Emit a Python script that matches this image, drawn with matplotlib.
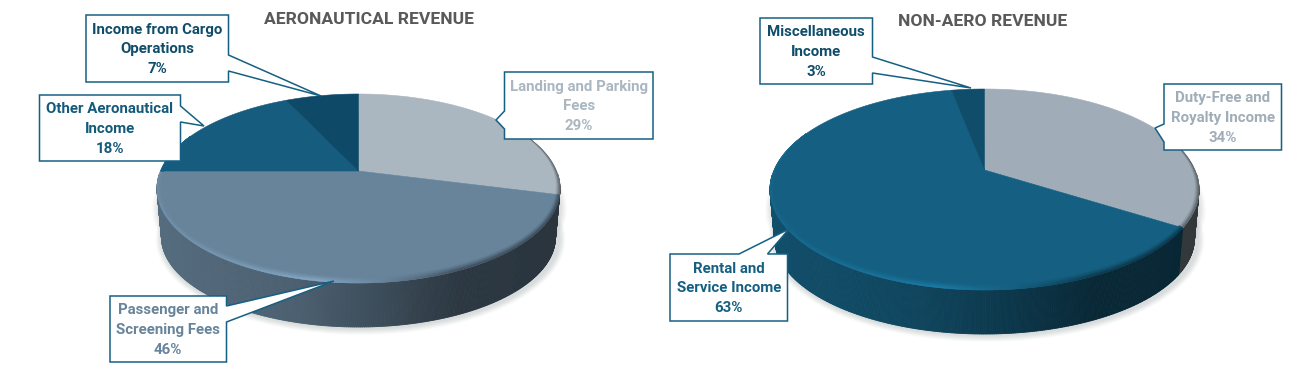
import numpy as np
import matplotlib
matplotlib.use("Agg")
import matplotlib.pyplot as plt
from matplotlib.collections import PolyCollection
from matplotlib.colors import to_rgb
from matplotlib.patches import Polygon, Ellipse

# ---- data ----
aero_title = "AERONAUTICAL REVENUE"
aero_categories = ["Landing and Parking\nFees", "Passenger and\nScreening Fees",
                   "Other Aeronautical\nIncome", "Income from Cargo\nOperations"]
aero_values = [29, 46, 18, 7]
aero_colors = ["#aab6c0", "#68849b", "#155c7e", "#0e4a68"]
aero_text = ["#aab6c0", "#68849b", "#145a7a", "#0f4d6b"]

nonaero_title = "NON-AERO REVENUE"
nonaero_categories = ["Duty-Free and\nRoyalty Income", "Rental and\nService Income",
                      "Miscellaneous\nIncome"]
nonaero_values = [34, 63, 3]
nonaero_colors = ["#a0adb8", "#156082", "#0f4d6b"]
nonaero_text = ["#a0adb8", "#156082", "#0f4d6b"]

# ---- layout (pixels) ----
aero_geom = dict(cx=358.5, cy=188.5, rx=201.5, ry=94.5, d=0.185, rxb=197, cyb=237, ryb=90)
nonaero_geom = dict(cx=984.5, cy=189.5, rx=214.5, ry=100.5, d=0.194, rxb=210, cyb=238, ryb=96)

aero_boxes = [
    dict(box=(504.5, 72, 653, 139), tip=(496, 120), base=((504.5, 129), (504.5, 111))),
    dict(box=(110, 296, 226.5, 362), tip=(334, 281), base=((226.5, 306), (226.5, 322))),
    dict(box=(39.5, 95, 180.5, 161), tip=(204, 126), base=((180.5, 106), (180.5, 122))),
    dict(box=(86, 15, 228.5, 82), tip=(321, 96), base=((228.5, 55), (228.5, 71))),
]
nonaero_boxes = [
    dict(box=(1164, 84, 1281.5, 150), tip=(1155, 128), base=((1164, 142), (1164, 124))),
    dict(box=(670, 254, 787.5, 321), tip=(789, 229), base=((739, 254), (767.5, 254))),
    dict(box=(760, 18, 872.5, 84), tip=(971, 88), base=((872.5, 57), (872.5, 73))),
]

EDGE = "#156082"
plt.rcParams["font.family"] = ["Roboto", "DejaVu Sans"]

fig = plt.figure(figsize=(12.9, 3.7), dpi=100, facecolor="white")
ax = fig.add_axes([0, 0, 1, 1])
ax.set_xlim(0, 1290)
ax.set_ylim(370, 0)
ax.axis("off")


def rim(theta, d):
    """Perspective map of the unit circle: theta runs clockwise from the top."""
    u, v = np.sin(theta), np.cos(theta)
    den = 1 + d * v
    return u * np.sqrt(1 - d * d) / den, (v + d) / den


def side_factor(x):
    return np.interp(x, [-1, -0.3, 0.1, 0.5, 1], [0.82, 0.72, 0.58, 0.42, 0.40])


def bevel_factor(x):
    return np.interp(x, [-1, -0.55, -0.2, 0.1, 0.5, 1], [1.08, 1.18, 1.28, 1.02, 0.62, 0.6])


def draw_pie(values, colors, g):
    cx, cy, rx, ry, d = g["cx"], g["cy"], g["rx"], g["ry"], g["d"]
    rxb, cyb, ryb = g["rxb"], g["cyb"], g["ryb"]

    # soft shadow
    for k, a in zip(range(7, 0, -1), [0.08, 0.10, 0.12, 0.14, 0.16, 0.18, 0.20]):
        ax.add_patch(Ellipse((cx + 2, cyb + 2), 2 * (rxb + k + 1), 2 * (ryb + k - 1),
                             fc="#c8cccc", ec="none", alpha=a, zorder=1))
        ax.add_patch(Ellipse((cx + 1, cy + 20), 2 * (rx + k - 1), 2 * (ry + k - 4),
                             fc="#c8cccc", ec="none", alpha=a * 0.8, zorder=1))

    edges = np.cumsum([0] + list(values)) / sum(values) * 2 * np.pi
    apex = (cx, cy - ry * d)

    # side wall
    quads, cols = [], []
    for i, c in enumerate(colors):
        base = np.array(to_rgb(c))
        n = max(int((edges[i + 1] - edges[i]) * 120), 3)
        th = np.linspace(edges[i], edges[i + 1], n + 1)
        X, Y = rim(th, d)
        for j in range(n):
            if Y[j] > 0.15 and Y[j + 1] > 0.15:
                continue
            quads.append([(cx + rx * X[j], cy - ry * Y[j]),
                          (cx + rx * X[j + 1], cy - ry * Y[j + 1]),
                          (cx + rxb * X[j + 1], cyb - ryb * Y[j + 1]),
                          (cx + rxb * X[j], cyb - ryb * Y[j])])
            f = side_factor((X[j] + X[j + 1]) / 2)
            # pale slices get a stronger darkening on their wall
            if base.mean() > 0.55:
                f *= 0.8
            cols.append(tuple(base * f))
    ax.add_collection(PolyCollection(quads, facecolors=cols, edgecolors=cols,
                                     linewidths=0.6, zorder=2))

    # top face
    for i, c in enumerate(colors):
        th = np.linspace(edges[i], edges[i + 1], 240)
        X, Y = rim(th, d)
        pts = np.column_stack([cx + rx * X, cy - ry * Y])
        pts = np.vstack([apex, pts])
        ax.add_patch(Polygon(pts, closed=True, fc=c, ec=c, lw=0.4, zorder=3))

    # bevel on the rim
    quads, cols = [], []
    steps = 5
    for i, c in enumerate(colors):
        base = np.array(to_rgb(c))
        n = max(int((edges[i + 1] - edges[i]) * 120), 3)
        th = np.linspace(edges[i], edges[i + 1], n + 1)
        X, Y = rim(th, d)
        taper = np.clip((0.55 - Y) / 0.55, 0, 1)
        for j in range(n):
            if taper[j] <= 0 and taper[j + 1] <= 0:
                continue
            f = bevel_factor((X[j] + X[j + 1]) / 2)

            def pt(t, k):
                q = (1 - k) * taper[t]
                return (cx + (rx - 4 * q) * X[t], cy - (ry - 6 * q) * Y[t])

            for s in range(steps):
                s0, s1 = s / steps, (s + 1) / steps
                quads.append([pt(j, s0), pt(j + 1, s0), pt(j + 1, s1), pt(j, s1)])
                m = 1 + (f - 1) * (s1 ** 1.2)
                cols.append(tuple(np.clip(base * m, 0, 1)))
    ax.add_collection(PolyCollection(quads, facecolors=cols, edgecolors=cols,
                                     linewidths=0.3, zorder=4))


def draw_callouts(categories, values, text_colors, boxes):
    for cat, val, tc, b in zip(categories, values, text_colors, boxes):
        x0, y0, x1, y1 = b["box"]
        p, q = b["base"]
        if p[0] == x1:      # wedge on right side, running downward
            verts = [(x0, y0), (x1, y0), p, b["tip"], q, (x1, y1), (x0, y1)]
        elif p[0] == x0:    # wedge on left side, running upward
            verts = [(x0, y0), (x1, y0), (x1, y1), (x0, y1), p, b["tip"], q]
        else:               # wedge on top side, running rightward
            verts = [(x0, y0), p, b["tip"], q, (x1, y0), (x1, y1), (x0, y1)]
        ax.add_patch(Polygon(verts, closed=True, fc="white", ec=EDGE, lw=1.1,
                             joinstyle="miter", zorder=6))
        ax.text((x0 + x1) / 2, (y0 + y1) / 2 + 1, f"{cat}\n{val}%", ha="center", va="center",
                color=tc, fontsize=10.8, fontweight="bold", linespacing=1.54, zorder=7)


draw_pie(aero_values, aero_colors, aero_geom)
draw_pie(nonaero_values, nonaero_colors, nonaero_geom)
draw_callouts(aero_categories, aero_values, aero_text, aero_boxes)
draw_callouts(nonaero_categories, nonaero_values, nonaero_text, nonaero_boxes)

ax.text(369, 19, aero_title, ha="center", va="center", color="#595959",
        fontsize=12.6, fontweight="bold", zorder=7)
ax.text(982.7, 21, nonaero_title, ha="center", va="center", color="#595959",
        fontsize=12.6, fontweight="bold", zorder=7)

fig.savefig("out.png", dpi=100, facecolor="white")
